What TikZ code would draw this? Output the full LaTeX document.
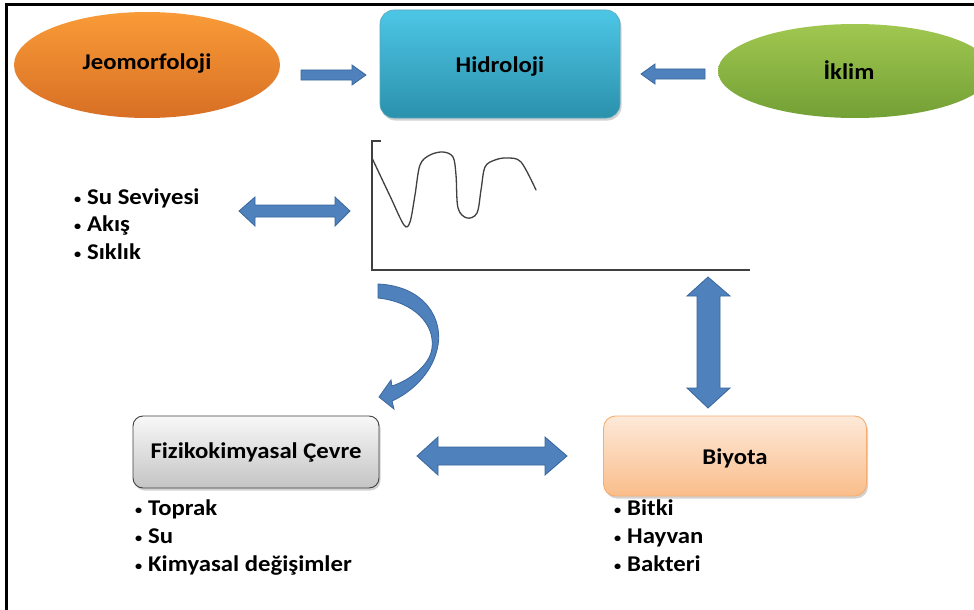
\documentclass[tikz,border=0pt]{standalone}
\usepackage{fontspec}
\setmainfont{Carlito}[FakeStretch=1.1]
\usetikzlibrary{shapes.geometric,shadows}
\definecolor{arrowblue}{HTML}{4F81BD}
\definecolor{arrowedge}{HTML}{3A679C}
\definecolor{orTop}{HTML}{F99B38}
\definecolor{orBot}{HTML}{D86F24}
\definecolor{cyTop}{HTML}{4DC6E6}
\definecolor{cyBot}{HTML}{2B91AC}
\definecolor{grTop}{HTML}{A0C750}
\definecolor{grBot}{HTML}{73A035}
\definecolor{gyTop}{HTML}{F8F8F8}
\definecolor{gyBot}{HTML}{C4C4C4}
\definecolor{pkTop}{HTML}{FDE9D9}
\definecolor{pkBot}{HTML}{FABD8A}
\definecolor{pkEdge}{HTML}{F5AE72}
\definecolor{axisgray}{HTML}{404040}
\newcommand{\bitem}[1]{\makebox[13pt][l]{\raisebox{1pt}{\fontsize{13}{13}\selectfont •}}#1}
\tikzset{
  lbl/.style={font=\fontsize{22.5}{26}\selectfont\bfseries, text=black},
  itm/.style={font=\fontsize{22.5}{26}\selectfont\bfseries, anchor=base west, inner sep=0pt},
  blockarrow/.style={fill=arrowblue, draw=arrowedge, line width=0.8pt, line join=miter},
  oval/.style={ellipse, inner sep=0pt},
  boxshadow/.style={drop shadow={shadow xshift=1.5pt, shadow yshift=-2.5pt, opacity=0.35, fill=gray}}
}
\begin{document}
\begin{tikzpicture}[x=1pt,y=-1pt]
\useasboundingbox (0,0) rectangle (974,610);
\fill[white] (0,0) rectangle (974,610);
\draw[line width=3pt] (6,610) -- (6,4.5) -- (974,4.5);

% top row
\node[oval, minimum width=266pt, minimum height=106pt, top color=orTop, bottom color=orBot] (jeo) at (147,65) {};
\node[lbl] (jeot) at (147,64) {Jeomorfoloji};
\node[rectangle, rounded corners=14pt, minimum width=240pt, minimum height=108pt, top color=cyTop, bottom color=cyBot, draw=cyBot!80!white, line width=0.6pt, boxshadow] (hid) at (500,64) {};
\node[lbl] (hidt) at (500,67) {Hidroloji};
\node[oval, minimum width=274pt, minimum height=94pt, top color=grTop, bottom color=grBot] (ikl) at (855,71) {};
\node[lbl] (iklt) at (849,70) {İklim};

% small top arrows
\draw[blockarrow] (301,70) -- (352,70) -- (352,65) -- (366,75) -- (352,85) -- (352,80) -- (301,80) -- cycle;
\draw[blockarrow] (705,69) -- (655,69) -- (655,64) -- (641,74) -- (655,84) -- (655,79) -- (705,79) -- cycle;

% graph
\draw[axisgray, line width=1.3pt] (381,141) -- (372,141) -- (372,270) -- (750,270);
\draw[axisgray, line width=1.3pt, line cap=round] plot[smooth, tension=0.55] coordinates {
 (372,158) (390,196) (404,225) (410,222) (415,195) (420,165) (430,155) (443,152) (453,157) (456,175) (458,208) (467,218) (477,213) (481,190) (485,167) (495,160) (507,158) (521,162) (536,190)};

% left bullet list and double arrow
\node[itm] (u1) at (74,204) {\bitem{Su Seviyesi}};
\node[itm] (u2) at (74,231.5) {\bitem{Akış}};
\node[itm] (u3) at (74,259) {\bitem{Sıklık}};
\draw[blockarrow] (239,211) -- (255,197) -- (255,205) -- (335,205) -- (335,197) -- (350,211) -- (335,226) -- (335,217) -- (255,217) -- (255,226) -- cycle;

% curved arrow
\draw[blockarrow] (378,284) .. controls (425,286) and (445,320) .. (437,350)
   .. controls (431,375) and (410,393) .. (392,401) -- (394,409) -- (379,397) -- (391,380) -- (392,386)
   .. controls (410,380) and (430,365) .. (432,348) .. controls (435,325) and (415,302) .. (378,298) -- cycle;

% vertical double arrow
\draw[blockarrow] (708,277) -- (730,296) -- (720,296) -- (720,388) -- (730,388) -- (708,408) -- (687,388) -- (697,388) -- (697,296) -- (687,296) -- cycle;

% bottom boxes
\node[rectangle, rounded corners=10pt, minimum width=246pt, minimum height=72pt, top color=gyTop, bottom color=gyBot, draw=black!75, line width=0.9pt, boxshadow] (fiz) at (256,452) {};
\node[lbl] (fizt) at (256,452) {Fizikokimyasal Çevre};
\node[rectangle, rounded corners=12pt, minimum width=263pt, minimum height=80pt, top color=pkTop, bottom color=pkBot, draw=pkEdge, line width=0.9pt, boxshadow] (biy) at (735,456) {};
\node[lbl] (biyt) at (735,458) {Biyota};

% bottom double arrow
\draw[blockarrow] (417,456) -- (438,437) -- (438,447) -- (545,447) -- (545,437) -- (567,456) -- (545,475) -- (545,465) -- (438,465) -- (438,475) -- cycle;

% bottom bullet lists
\node[itm] (f1) at (135,515) {\bitem{Toprak}};
\node[itm] (f2) at (135,543) {\bitem{Su}};
\node[itm] (f3) at (135,571) {\bitem{Kimyasal değişimler}};
\node[itm] (b1) at (614,515) {\bitem{Bitki}};
\node[itm] (b2) at (614,543) {\bitem{Hayvan}};
\node[itm] (b3) at (614,571) {\bitem{Bakteri}};
\end{tikzpicture}
\end{document}
